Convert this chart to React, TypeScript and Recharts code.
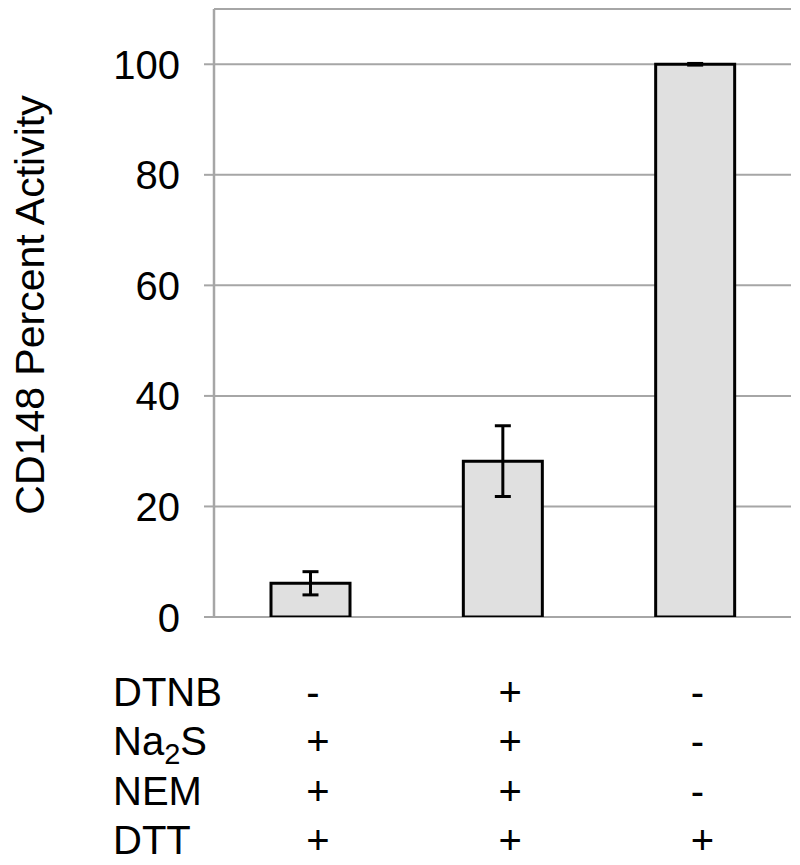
import { BarChart, Bar, XAxis, YAxis, CartesianGrid, ErrorBar, Customized } from "recharts";

const conditions = ["c1", "c2", "c3"];
const activity = [6.1, 28.2, 100];
const activityErr = [2.1, 6.4, 0.15];

const rowLabels = ["DTNB", "Na2S", "NEM", "DTT"];
const dtnb = ["-", "+", "-"];
const na2s = ["+", "+", "-"];
const nem = ["+", "+", "-"];
const dtt = ["+", "+", "+"];
const signRows = [dtnb, na2s, nem, dtt];

const yTicks = [0, 20, 40, 60, 80, 100];

const data = conditions.map((c, i) => ({
  name: c,
  activity: activity[i],
  err: activityErr[i],
}));

const FONT = "'Liberation Sans', Arial, sans-serif";
const ROW_Y = [698, 747, 797, 846];

function RowLabel({ text, y }: { text: string; y: number }) {
  if (text === "Na2S") {
    return (
      <text x={105} y={y} fontSize={40} fontFamily={FONT} fill="#000">
        Na
        <tspan fontSize={29} dy={9}>2</tspan>
        <tspan dy={-9}>S</tspan>
      </text>
    );
  }
  return (
    <text x={105} y={y} fontSize={40} fontFamily={FONT} fill="#000">
      {text}
    </text>
  );
}

function ConditionTick(props: any) {
  const { x, index } = props;
  return (
    <g>
      {index === 0 &&
        rowLabels.map((r, k) => <RowLabel key={r} text={r} y={ROW_Y[k]} />)}
      {signRows.map((row, k) => (
        <text
          key={k}
          x={x - 4}
          y={ROW_Y[k]}
          fontSize={40}
          fontFamily={FONT}
          fill="#000"
        >
          {row[index]}
        </text>
      ))}
    </g>
  );
}

function ValueTick(props: any) {
  const { x, y, payload } = props;
  return (
    <text x={x} y={y + 14.5} textAnchor="end" fontSize={40} fontFamily={FONT} fill="#000">
      {payload.value}
    </text>
  );
}

export default function App() {
  return (
    <div style={{ width: 792, height: 857 }}>
      <BarChart
        width={792}
        height={857}
        data={data}
        margin={{ top: 1, right: 9, bottom: 0, left: 0 }}
      >
        <CartesianGrid vertical={false} stroke="#a6a6a6" strokeWidth={2} />
        <XAxis
          dataKey="name"
          height={248}
          axisLine={false}
          tickLine={false}
          tick={<ConditionTick />}
          interval={0}
        />
        <YAxis
          width={206}
          domain={[0, 110]}
          ticks={yTicks}
          allowDataOverflow
          axisLine={{ stroke: "#a6a6a6", strokeWidth: 2.5 }}
          tickLine={{ stroke: "#a6a6a6", strokeWidth: 2 }}
          tickSize={10}
          tickMargin={24}
          tick={<ValueTick />}
        />
        <Bar
          dataKey="activity"
          barSize={79}
          fill="#e0e0e0"
          stroke="#000"
          strokeWidth={3}
          isAnimationActive={false}
        >
          <ErrorBar dataKey="err" width={8} stroke="#000" strokeWidth={3} direction="y" />
        </Bar>
        <Customized
          component={() => (
            <text
              transform="translate(36,297) rotate(-90)"
              textAnchor="middle"
              fontSize={41}
              fontFamily={FONT}
              fill="#000"
            >
              CD148 Percent Activity
            </text>
          )}
        />
      </BarChart>
    </div>
  );
}
